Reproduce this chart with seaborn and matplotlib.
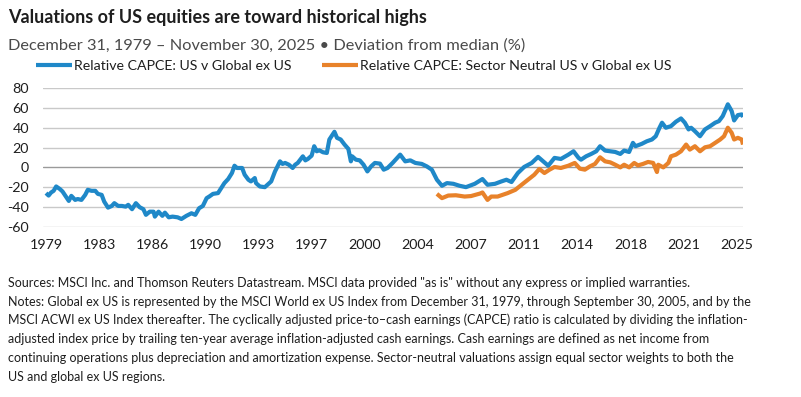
import matplotlib
matplotlib.use("Agg")
import matplotlib.pyplot as plt
import numpy as np
import pandas as pd
import seaborn as sns

# ---------------- data ----------------
title = "Valuations of US equities are toward historical highs"
subtitle = "December 31, 1979 \u2013 November 30, 2025 \u2022 Deviation from median (%)"
label_blue = "Relative CAPCE: US v Global ex US"
label_orange = "Relative CAPCE: Sector Neutral US v Global ex US"

blue_dates = [
    "1979-12", "1980-02", "1980-04", "1980-06", "1980-08", "1980-11", "1981-01", "1981-04",
    "1981-06", "1981-08", "1981-11", "1982-01", "1982-04", "1982-07", "1982-09", "1982-12",
    "1983-03", "1983-05", "1983-08", "1983-10", "1984-01", "1984-04", "1984-06", "1984-09",
    "1984-12", "1985-03", "1985-05", "1985-08", "1985-11", "1986-02", "1986-05", "1986-07",
    "1986-10", "1987-01", "1987-02", "1987-05", "1987-08", "1987-10", "1988-01", "1988-04",
    "1988-08", "1988-11", "1989-03", "1989-07", "1989-10", "1990-01", "1990-04", "1990-07",
    "1990-09", "1990-12", "1991-04", "1991-06", "1991-09", "1991-12", "1992-03", "1992-05",
    "1992-07", "1992-11", "1993-01", "1993-04", "1993-06", "1993-09", "1993-10", "1994-01",
    "1994-05", "1994-08", "1994-10", "1995-01", "1995-05", "1995-07", "1995-09", "1995-12",
    "1996-03", "1996-05", "1996-07", "1996-11", "1997-01", "1997-03", "1997-06", "1997-08",
    "1997-10", "1997-12", "1998-03", "1998-06", "1998-08", "1998-10", "1998-12", "1999-02",
    "1999-05", "1999-08", "1999-11", "2000-01", "2000-02", "2000-05", "2000-08", "2000-11",
    "2001-02", "2001-05", "2001-08", "2001-12", "2002-03", "2002-06", "2002-10", "2003-04",
    "2003-08", "2003-12", "2004-04", "2004-09", "2005-01", "2005-05", "2005-09", "2006-01",
    "2006-05", "2006-10", "2007-03", "2007-08", "2008-03", "2008-09", "2009-01", "2009-07",
    "2009-12", "2010-04", "2010-08", "2011-01", "2011-06", "2011-12", "2012-05", "2012-09",
    "2013-01", "2013-06", "2013-11", "2014-05", "2014-09", "2015-01", "2015-03", "2015-07",
    "2015-11", "2016-03", "2016-06", "2016-10", "2017-02", "2017-06", "2017-10", "2018-01",
    "2018-05", "2018-08", "2018-10", "2019-03", "2019-07", "2019-11", "2020-02", "2020-05",
    "2020-07", "2020-10", "2021-02", "2021-06", "2021-10", "2022-01", "2022-04", "2022-06",
    "2022-09", "2023-01", "2023-05", "2023-09", "2024-01", "2024-04", "2024-07", "2024-11",
    "2025-02", "2025-04", "2025-07", "2025-10", "2025-11",
]
blue_values = [
    -26, -28.5, -25.4, -23.7, -19.3, -22, -24.4, -30,
    -33.9, -28.8, -32.9, -32, -32.9, -27.8, -22.7, -23.7,
    -23.7, -26.8, -27.8, -34.6, -40.7, -39, -36.2, -39,
    -39, -39.7, -37.9, -42.3, -36.2, -40.3, -42.3, -48,
    -44.8, -44.8, -49.8, -44.8, -49, -45.8, -50.5, -49.8,
    -50.5, -52.2, -49, -46.4, -48, -41.3, -39, -31.1,
    -29.5, -26.8, -26, -22, -15.9, -11.8, -5.7, 1.7,
    -0.6, -0.6, -7.4, -12.5, -14.2, -10.8, -15.9, -19.3,
    -20, -16.6, -14.2, -4.1, 6.1, 3.5, 4.5, 2.7,
    -0.6, 2.7, 4.5, 11.2, 7.1, 8.5, 11.9, 21.4,
    16.3, 17.3, 15.3, 14.6, 28.2, 32.2, 36, 29.9,
    28.2, 23.1, 18.7, 6.1, 11.2, 7.8, 7.1, 2.7,
    -4.1, 1, 4.5, 3.8, -2.3, -0.6, 4.5, 12.9,
    6.1, 7.1, 4.5, 3.5, 1, -2.3, -12.5, -18.6,
    -15.9, -16.6, -18.6, -20, -16.6, -11.8, -17.6, -16.6,
    -14.2, -12.5, -14.8, -5.7, 0.4, 4.5, 10.6, 6.1,
    1.7, 9.6, 8.5, 12.9, 16.3, 9.6, 7.8, 11.2,
    13.6, 16.3, 21.4, 17, 16.3, 15.6, 13.6, 17,
    15.6, 24.8, 21.4, 23.8, 26.4, 28.2, 31.5, 40.1,
    45.2, 40.1, 41.7, 46.2, 49.5, 45.2, 38.4, 40.1,
    36.6, 31.5, 38.4, 41.7, 45.2, 46.8, 51.9, 63.8,
    57, 47.5, 52.9, 53.6, 51,
]

orange_dates = [
    "2005-09", "2006-01", "2006-06", "2006-12", "2007-07", "2007-12", "2008-07", "2008-09",
    "2009-01", "2009-04", "2009-09", "2010-05", "2010-11", "2011-04", "2011-09", "2012-02",
    "2012-06", "2012-10", "2013-02", "2013-06", "2013-11", "2014-05", "2014-10", "2015-02",
    "2015-06", "2015-10", "2016-02", "2016-06", "2016-10", "2017-02", "2017-06", "2017-10",
    "2018-01", "2018-05", "2018-09", "2018-12", "2019-04", "2019-08", "2019-12", "2020-03",
    "2020-04", "2020-08", "2020-12", "2021-02", "2021-06", "2021-10", "2022-02", "2022-05",
    "2022-09", "2023-01", "2023-05", "2023-09", "2024-01", "2024-05", "2024-08", "2024-11",
    "2025-02", "2025-04", "2025-07", "2025-10", "2025-11",
]
orange_values = [
    -26.8, -31.1, -28.5, -28.2, -29.5, -29, -26.5, -25.4,
    -32.9, -29.5, -29.5, -26, -22.7, -17.6, -12.5, -7.4,
    -1.6, -5.7, -2.3, 0.4, -0.6, 1.7, 4.5, -1.3,
    -2.3, 1, 3.5, 10.2, 6.1, 5.1, 2.7, 0,
    2.7, 0, 4.5, 2, 3.5, 5.5, 4.5, -4.7,
    2.7, 0, 4.5, 11.2, 12.9, 16.3, 23.1, 18,
    21.4, 16.3, 20.3, 21.4, 24.8, 28.2, 31.5, 40.1,
    35, 28.2, 29.9, 28.2, 23.1,
]

y_ticks = [-60, -40, -20, 0, 20, 40, 60, 80]
y_tick_labels = ["-60", "-40", "-20", "0", "20", "40", "60", "80"]
x_tick_dates = ["1979-12", "1983-06", "1986-12", "1990-06", "1993-12", "1997-06", "2000-12",
                "2004-06", "2007-12", "2011-06", "2014-12", "2018-06", "2021-12", "2025-06"]
x_tick_labels = ["1979", "1983", "1986", "1990", "1993", "1997", "2000",
                 "2004", "2007", "2011", "2014", "2018", "2021", "2025"]

notes = [
    'Sources: MSCI Inc. and Thomson Reuters Datastream. MSCI data provided "as is" without any express or implied warranties.',
    "Notes: Global ex US is represented by the MSCI World ex US Index from December 31, 1979, through September 30, 2005, and by the",
    "MSCI ACWI ex US Index thereafter. The cyclically adjusted price-to\u2013cash earnings (CAPCE) ratio is calculated by dividing the inflation-",
    "adjusted index price by trailing ten-year average inflation-adjusted cash earnings. Cash earnings are defined as net income from",
    "continuing operations plus depreciation and amortization expense. Sector-neutral valuations assign equal sector weights to both the",
    "US and global ex US regions.",
]

# ---------------- style ----------------
BLUE = "#1f88c8"
ORANGE = "#e8822a"
DARK = "#1e1e1e"
SUB = "#4a4a4a"

sns.set_theme(style="white")
plt.rcParams["font.family"] = ["Lato", "DejaVu Sans"]
plt.rcParams["axes.unicode_minus"] = False

W, H = 801, 397
fig = plt.figure(figsize=(W / 100, H / 100), dpi=100)
renderer = fig.canvas.get_renderer()


def fx(px):
    return px / W


def fy(py):
    return 1 - py / H


def fit(text, width_px, **kw):
    t = fig.text(0, 0, text, fontsize=10, **kw)
    w = t.get_window_extent(renderer).width
    t.remove()
    return 10 * width_px / w


# axes area
ax_l, ax_r, ax_t, ax_b = 42.7, 743.3, 88.3, 226.7
ax = fig.add_axes([fx(ax_l), fy(ax_b), fx(ax_r - ax_l), (ax_b - ax_t) / H])

df_b = pd.DataFrame({"date": pd.to_datetime(blue_dates), "value": blue_values})
df_o = pd.DataFrame({"date": pd.to_datetime(orange_dates), "value": orange_values})

sns.lineplot(data=df_b, x="date", y="value", ax=ax, color=BLUE, lw=3.0,
             label=label_blue, solid_capstyle="butt", zorder=3)
sns.lineplot(data=df_o, x="date", y="value", ax=ax, color=ORANGE, lw=3.0,
             label=label_orange, solid_capstyle="butt", zorder=3)

ax.set_ylim(-60, 80)
ax.set_xlim(pd.Timestamp("1979-09-12"), pd.Timestamp("2025-11-08"))
ax.set_xlabel("")
ax.set_ylabel("")
for s in ax.spines.values():
    s.set_visible(False)

tick_fs = fit("1979", 33)
ax.set_yticks(y_ticks)
ax.set_yticklabels(y_tick_labels)
ax.set_xticks(pd.to_datetime(x_tick_dates))
ax.set_xticklabels(x_tick_labels)
ax.tick_params(axis="y", length=0, pad=10, labelsize=tick_fs, labelcolor=DARK)
ax.tick_params(axis="x", length=0, pad=9, labelsize=tick_fs, labelcolor=DARK)

ax.set_axisbelow(True)
ax.yaxis.grid(True, color="#c9c9c9", lw=1.0)
ax.xaxis.grid(False)
for val, gl in zip(y_ticks, ax.get_ygridlines()):
    if val == 0:
        gl.set_color("#9a9a9a")

# legend
leg_fs = fit(label_orange, 310)
leg_px = leg_fs * 100 / 72
ax.legend(loc="center left", bbox_to_anchor=(fx(36), fy(65.5)), bbox_transform=fig.transFigure,
          ncol=2, frameon=False, fontsize=leg_fs, handlelength=36 / leg_px,
          handletextpad=2 / leg_px, columnspacing=30 / leg_px, borderpad=0, borderaxespad=0,
          labelcolor=DARK)

# titles
fig.text(fx(8), fy(22.7), title, fontsize=fit(title, 420, weight="bold"), weight="bold",
         color=DARK, va="baseline", ha="left")
fig.text(fx(8), fy(49.3), subtitle, fontsize=fit(subtitle, 515), color=SUB,
         va="baseline", ha="left")

# footnotes
note_fs = fit(notes[1], 742)
baselines = [286.7, 305.8, 324.5, 343.2, 362.0, 380.8]
for line, b in zip(notes, baselines):
    fig.text(fx(8), fy(b), line, fontsize=note_fs, color=DARK, va="baseline", ha="left")

fig.savefig("out.png", dpi=100)
